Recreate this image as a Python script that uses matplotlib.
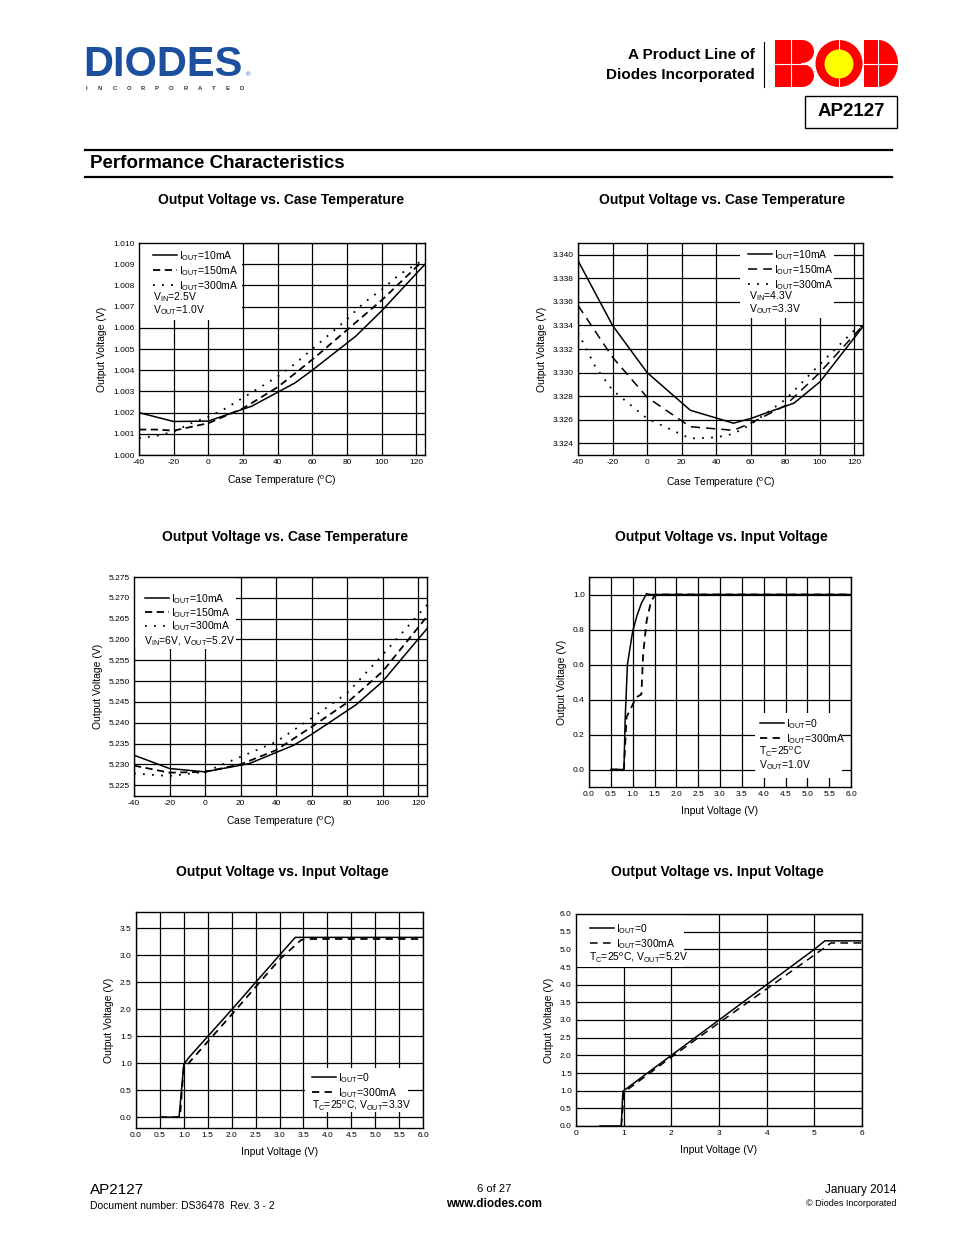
import numpy as np
import matplotlib
matplotlib.use('Agg')
import matplotlib.pyplot as plt
from matplotlib.patches import Rectangle, Ellipse, Circle, Polygon

plt.rcParams['font.family'] = ['Liberation Sans', 'DejaVu Sans']
plt.rcParams['mathtext.fontset'] = 'custom'
plt.rcParams['mathtext.rm'] = 'Liberation Sans'
plt.rcParams['mathtext.it'] = 'Liberation Sans:italic'
plt.rcParams['mathtext.bf'] = 'Liberation Sans:bold'

# ---- data ----
# Vout vs case temperature, Vout = 1.0V
t1_10 = [-40, -20, 0, 25, 50, 60, 85, 100, 125]
v1_10 = [1.0020, 1.00158, 1.0016, 1.0023, 1.0034, 1.0040, 1.0056, 1.0068, 1.0090]
t1_150 = [-40, -30, -20, 0, 20, 40, 60, 80, 100, 123]
v1_150 = [1.0012, 1.0012, 1.00115, 1.0015, 1.0022, 1.0032, 1.0045, 1.0059, 1.0073, 1.0091]
t1_300 = [-40, -30, -20, -10, 0, 10, 20, 30, 40, 50, 60, 70, 80, 90, 100, 110, 122]
v1_300 = [1.0008, 1.0009, 1.0011, 1.0015, 1.0018, 1.0022, 1.0027, 1.0032, 1.0037,
          1.0043, 1.0050, 1.0057, 1.0064, 1.0072, 1.0078, 1.0085, 1.0091]

# Vout vs case temperature, Vout = 3.3V
t2_10 = [-40, -20, 0, 25, 50, 60, 85, 100, 125]
v2_10 = [3.3395, 3.3340, 3.3300, 3.3268, 3.3257, 3.3261, 3.3274, 3.3292, 3.3339]
t2_150 = [-40, -20, 0, 25, 50, 60, 80, 100, 125]
v2_150 = [3.3357, 3.3313, 3.3279, 3.3254, 3.3251, 3.3257, 3.3272, 3.3300, 3.3340]
t2_300 = [-40, -30, -20, 0, 25, 40, 50, 60, 80, 100, 120, 125]
v2_300 = [3.3334, 3.3305, 3.3285, 3.3261, 3.3244, 3.3245, 3.3248, 3.3256, 3.3277,
          3.3307, 3.3336, 3.3340]

# Vout vs case temperature, Vout = 5.2V
t3_10 = [-40, -20, 0, 25, 50, 60, 85, 100, 125]
v3_10 = [5.2322, 5.2290, 5.2282, 5.2302, 5.2346, 5.2372, 5.2443, 5.2499, 5.2626]
t3_hi = [-40, -20, 0, 20, 40, 60, 80, 100, 125]
v3_150 = [5.2297, 5.2280, 5.2282, 5.2300, 5.2334, 5.2390, 5.2448, 5.2523, 5.2655]
v3_300 = [5.2278, 5.2272, 5.2282, 5.2318, 5.2354, 5.2411, 5.2471, 5.2563, 5.2683]

# Vout vs Vin, Vout = 1.0V
vin4_0 = [0.5, 0.8, 0.83, 0.88, 1.0, 1.1, 1.2, 1.32, 1.4, 6.0]
vo4_0 = [0, 0, 0.30, 0.60, 0.79, 0.88, 0.95, 1.005, 1.0, 1.0]
vin4_300 = [0.5, 0.8, 0.86, 1.0, 1.07, 1.2, 1.24, 1.32, 1.42, 1.52, 6.0]
vo4_300 = [0, 0, 0.30, 0.37, 0.41, 0.43, 0.66, 0.85, 0.96, 1.0, 1.0]

# Vout vs Vin, Vout = 3.3V
vin5_0 = [0.5, 0.9, 1.0, 1.1, 2.0, 3.0, 3.33, 3.4, 6.0]
vo5_0 = [0, 0, 0.98, 1.1, 1.99, 3.0, 3.33, 3.33, 3.33]
vin5_300 = [0.5, 0.92, 0.96, 1.0, 1.1, 2.0, 3.0, 3.45, 3.55, 6.0]
vo5_300 = [0, 0, 0.5, 0.95, 1.0, 1.9, 2.92, 3.28, 3.30, 3.30]

# Vout vs Vin, Vout = 5.2V
vin6_0 = [0.5, 0.95, 0.98, 1.0, 2.0, 3.0, 4.0, 5.0, 5.22, 6.0]
vo6_0 = [0, 0, 0.9, 1.0, 2.0, 3.0, 4.0, 5.0, 5.24, 5.24]
vin6_300 = [0.95, 0.98, 1.0, 1.05, 2.0, 3.0, 4.0, 5.0, 5.35, 6.0]
vo6_300 = [0, 0.5, 0.95, 1.0, 1.95, 2.92, 3.88, 4.84, 5.18, 5.18]

temp_ticks = [-40, -20, 0, 20, 40, 60, 80, 100, 120]

W, H = 954, 1235
fig = plt.figure(figsize=(W / 100, H / 100), dpi=100)
# page layer in pixel coordinates (header, footer, titles)
page = fig.add_axes([0, 0, 1, 1])
page.set_xlim(0, W)
page.set_ylim(H, 0)
page.axis('off')

SOLID = dict(color='black', lw=1.1)
DASH = dict(color='black', lw=1.3, dashes=(4, 2.5))
DOT = dict(color='black', lw=1.3, dashes=(1, 4))


def chart(box, xlim, ylim, xticks, yticks, xfmt, yfmt, title, title_xy,
          xlabel, xlabel_y, ylabel_x):
    l, t, r, b = box
    ax = fig.add_axes([l / W, 1 - b / H, (r - l) / W, (b - t) / H])
    ax.set_xlim(xlim)
    ax.set_ylim(ylim)
    ax.set_xticks(xticks)
    ax.set_yticks(yticks)
    ax.set_xticklabels([xfmt.format(v) for v in xticks])
    ax.set_yticklabels([yfmt.format(v) for v in yticks])
    ax.grid(True, color='black', lw=0.9)
    ax.set_axisbelow(True)
    ax.tick_params(length=0, labelsize=6, pad=3)
    for s in ax.spines.values():
        s.set_linewidth(1.0)
    ax.set_xlabel(xlabel, fontsize=7.5)
    ax.xaxis.set_label_coords((l + r) / 2, xlabel_y, transform=page.transData)
    ax.xaxis.label.set_va('center')
    ax.set_ylabel('Output Voltage (V)', fontsize=7.5)
    ax.yaxis.set_label_coords(ylabel_x, (t + b) / 2, transform=page.transData)
    ax.yaxis.label.set_va('center')
    page.text(title_xy[0], title_xy[1], title, fontsize=10, fontweight='bold',
              ha='center', va='center')
    return ax


def key(ax, lines, labels, notes, box, anchor, note_x, note_y, note_dy=13.5,
        spacing=0.12):
    # white block hiding the grid, then the legend and the test conditions
    x0, y0, x1, y1 = box
    ax.add_patch(Rectangle((x0, y0), x1 - x0, y1 - y0, transform=page.transData,
                           facecolor='white', edgecolor='none', zorder=2.5))
    ax.legend(lines, labels, loc='upper left', bbox_to_anchor=anchor,
              bbox_transform=page.transData, frameon=False, fontsize=7.5,
              handlelength=2.3, handletextpad=0.2, labelspacing=spacing,
              borderpad=0, borderaxespad=0).set_zorder(5)
    for i, s in enumerate(notes):
        ax.text(note_x, note_y + i * note_dy, s, transform=page.transData,
                fontsize=7.5, va='center', ha='left', zorder=6)


I10 = r'I$_{\mathrm{OUT}}$=10mA'
I150 = r'I$_{\mathrm{OUT}}$=150mA'
I300 = r'I$_{\mathrm{OUT}}$=300mA'
I0 = r'I$_{\mathrm{OUT}}$=0'
TC = r'T$_{\mathrm{C}}$=25$^{\mathrm{o}}$C'
CT = r'Case Temperature ($^{\mathrm{o}}$C)'

# ---- chart 1 ----
ax = chart((139, 243, 425, 455), (-40, 125), (1.000, 1.010), temp_ticks,
           np.arange(1.000, 1.0101, 0.001), '{:d}', '{:.3f}',
           'Output Voltage vs. Case Temperature', (281, 200), CT, 481, 102)
a, = ax.plot(t1_10, v1_10, **SOLID)
b, = ax.plot(t1_150, v1_150, **DASH)
c, = ax.plot(t1_300, v1_300, **DOT)
key(ax, [a, b, c], [I10, I150, I300],
    [r'V$_{\mathrm{IN}}$=2.5V', r'V$_{\mathrm{OUT}}$=1.0V'],
    (140, 244, 242, 320), (153, 249), 153, 297)

# ---- chart 2 ----
ax = chart((578, 243, 863, 455), (-40, 125), (3.323, 3.341), temp_ticks,
           np.arange(3.324, 3.3401, 0.002), '{:d}', '{:.3f}',
           'Output Voltage vs. Case Temperature', (722, 200), CT, 483, 542)
a, = ax.plot(t2_10, v2_10, **SOLID)
b, = ax.plot(t2_150, v2_150, color='black', lw=1.1, dashes=(6, 4))
c, = ax.plot(t2_300, v2_300, **DOT)
key(ax, [a, b, c], [I10, I150, I300],
    [r'V$_{\mathrm{IN}}$=4.3V', r'V$_{\mathrm{OUT}}$=3.3V'],
    (740, 244, 834, 318), (748, 248), 749, 296)

# ---- chart 3 ----
ax = chart((134, 577, 427, 796), (-40, 125), (5.2224, 5.275), temp_ticks,
           np.arange(5.225, 5.2751, 0.005), '{:d}', '{:.3f}',
           'Output Voltage vs. Case Temperature', (285, 537), CT, 822, 98)
a, = ax.plot(t3_10, v3_10, **SOLID)
b, = ax.plot(t3_hi, v3_150, **DASH)
c, = ax.plot(t3_hi, v3_300, **DOT)
key(ax, [a, b, c], [I10, I150, I300],
    [r'V$_{\mathrm{IN}}$=6V, V$_{\mathrm{OUT}}$=5.2V'],
    (135, 578, 236, 649), (145, 592), 144, 641, spacing=0.0)

# ---- chart 4 ----
ax = chart((589, 577, 851, 787), (0, 6), (-0.1, 1.1), np.arange(0, 6.01, 0.5),
           np.arange(0, 1.01, 0.2), '{:.1f}', '{:.1f}',
           'Output Voltage vs. Input Voltage', (721, 537), 'Input Voltage (V)', 811, 562)
a, = ax.plot(vin4_0, vo4_0, **SOLID)
b, = ax.plot(vin4_300, vo4_300, color='black', lw=1.3, dashes=(4, 3))
key(ax, [a, b], [I0, I300], [TC, r'V$_{\mathrm{OUT}}$=1.0V'],
    (755, 713, 842, 778), (760, 717), 759, 752)

# ---- chart 5 ----
ax = chart((136, 912, 423, 1128), (0, 6), (-0.2, 3.8), np.arange(0, 6.01, 0.5),
           np.arange(0, 3.51, 0.5), '{:.1f}', '{:.1f}',
           'Output Voltage vs. Input Voltage', (282, 872), 'Input Voltage (V)', 1152, 109)
a, = ax.plot(vin5_0, vo5_0, **SOLID)
b, = ax.plot(vin5_300, vo5_300, color='black', lw=1.3, dashes=(4, 3))
key(ax, [a, b], [I0, I300], [TC + r', V$_{\mathrm{OUT}}$=3.3V'],
    (305, 1068, 408, 1112), (312, 1071), 312, 1105)

# ---- chart 6 ----
ax = chart((576, 914, 862, 1126), (0, 6), (0, 6), np.arange(0, 7, 1),
           np.arange(0, 6.01, 0.5), '{:d}', '{:.1f}',
           'Output Voltage vs. Input Voltage', (717, 872), 'Input Voltage (V)', 1150, 549)
a, = ax.plot(vin6_0, vo6_0, **SOLID)
b, = ax.plot(vin6_300, vo6_300, color='black', lw=1.1, dashes=(5, 3.5))
key(ax, [a, b], [I0, I300], [TC + r', V$_{\mathrm{OUT}}$=5.2V'],
    (577, 915, 684, 967), (590, 922), 589, 957)

# ---- header ----
page.text(83, 76, 'DIODES', fontsize=30, fontweight='heavy', color='#1d4f9f',
          ha='left', va='baseline')
for i, ch in enumerate('INCORPORATED'):
    page.text(86 + i * 14.2, 88.5, ch, fontsize=4.2, fontweight='bold', color='#333333',
              ha='center', va='center')
page.text(248, 75, '®', fontsize=4.5, color='#1d4f9f', ha='center', va='center')

page.text(755, 55, 'A Product Line of', fontsize=11, fontweight='bold',
          ha='right', va='center')
page.text(755, 75, 'Diodes Incorporated', fontsize=11, fontweight='bold',
          ha='right', va='center')
page.plot([764, 764], [42, 87], color='black', lw=0.8)

red, yel = '#ff0000', '#ffff00'
# B
page.add_patch(Rectangle((775, 40), 26, 47, facecolor=red, edgecolor='none'))
page.add_patch(Ellipse((802, 51.5), 24, 23, facecolor=red, edgecolor='none'))
page.add_patch(Ellipse((802, 75.5), 24, 23, facecolor=red, edgecolor='none'))
# C
page.add_patch(Ellipse((839, 63.5), 47, 47, facecolor=red, edgecolor='none'))
page.add_patch(Circle((839, 64), 14.5, facecolor=yel, edgecolor='none'))
# D
ang = np.linspace(-np.pi / 2, np.pi / 2, 40)
d_pts = [(864, 87), (864, 40)] + list(zip(878 + 20 * np.cos(ang), 63.5 + 23.5 * np.sin(ang)))
page.add_patch(Polygon(d_pts, closed=True, facecolor=red, edgecolor='none'))
# white seams
page.plot([775, 814], [63.5, 63.5], color='white', lw=0.8)
page.plot([864, 898], [63.5, 63.5], color='white', lw=0.8)
page.plot([791, 791], [40, 87], color='white', lw=0.8)
page.plot([878, 878], [40, 87], color='white', lw=0.8)
page.plot([839, 839], [40, 49.5], color='white', lw=0.8)
page.plot([839, 839], [78.5, 87], color='white', lw=0.8)

page.add_patch(Rectangle((805, 96), 92, 32, facecolor='white', edgecolor='black', lw=1.0))
page.text(851, 112, 'AP2127', fontsize=13.5, fontweight='bold', ha='center', va='center')

page.plot([85, 892], [150, 150], color='black', lw=1.6)
page.plot([85, 892], [177, 177], color='black', lw=1.6)
page.text(90, 164, 'Performance Characteristics', fontsize=13.5, fontweight='bold',
          ha='left', va='center')

# ---- footer ----
page.text(90, 1190, 'AP2127', fontsize=11, ha='left', va='center')
page.text(90, 1206, 'Document number: DS36478  Rev. 3 - 2', fontsize=7.5, ha='left', va='center')
page.text(494, 1189, '6 of 27', fontsize=8, ha='center', va='center')
page.text(494, 1204, 'www.diodes.com', fontsize=8.5, fontweight='bold', ha='center', va='center')
page.text(897, 1190, 'January 2014', fontsize=8.5, ha='right', va='center')
page.text(897, 1204, '© Diodes Incorporated', fontsize=6.5, ha='right', va='center')

fig.savefig('out.png', dpi=100)
